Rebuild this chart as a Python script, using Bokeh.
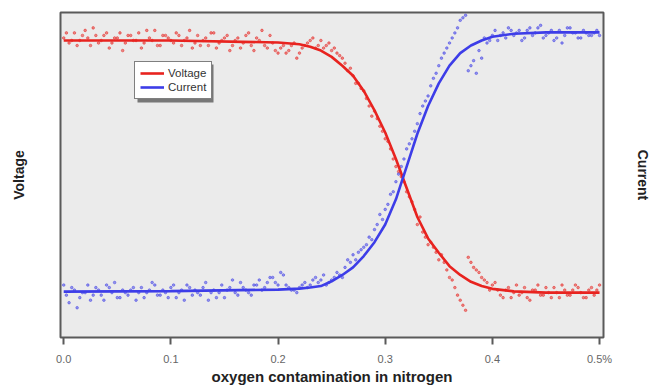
from bokeh.plotting import figure
from bokeh.models import (FixedTicker, LinearAxis, Range1d, Legend, LegendItem,
                          ColumnDataSource, BoxAnnotation)
from bokeh.embed import file_html
from bokeh.resources import INLINE

# ---- data ----
tick_values = [0.0, 0.1, 0.2, 0.3, 0.4, 0.5]
tick_labels = ["0.0", "0.1", "0.2", "0.3", "0.4", "0.5%"]

# fitted curves
voltage_fit_x = [0.0, 0.10, 0.20, 0.22, 0.23, 0.24, 0.25, 0.26, 0.27, 0.28, 0.29,
                 0.30, 0.31, 0.32, 0.33, 0.34, 0.35, 0.36, 0.37, 0.38, 0.39,
                 0.40, 0.42, 0.45, 0.50]
voltage_fit_y = [1.0, 1.0, 0.992, 0.985, 0.975, 0.96, 0.935, 0.90, 0.86, 0.80, 0.723,
                 0.635, 0.53, 0.415, 0.30, 0.215, 0.158, 0.105, 0.07, 0.043, 0.026,
                 0.015, 0.005, 0.0, 0.0]
current_fit_x = [0.0, 0.10, 0.20, 0.22, 0.23, 0.24, 0.25, 0.26, 0.27, 0.28, 0.29,
                 0.30, 0.31, 0.32, 0.33, 0.34, 0.35, 0.36, 0.37, 0.38, 0.39,
                 0.40, 0.42, 0.45, 0.50]
current_fit_y = [0.004, 0.006, 0.012, 0.016, 0.02, 0.026, 0.045, 0.07, 0.10, 0.145, 0.20,
                 0.27, 0.37, 0.50, 0.63, 0.74, 0.83, 0.90, 0.95, 0.98, 1.00,
                 1.015, 1.027, 1.032, 1.032]

# raw measurements (dots), two interleaved sampling grids
sample_x = [round(i * 0.005, 4) for i in range(101)]
sample_x2 = [round(0.0025 + i * 0.005, 4) for i in range(100)]
voltage_raw = [1.01, 0.99, 1.03, 1.00, 1.04, 0.98, 1.02, 1.00, 1.03, 0.99,
               1.01, 0.96, 1.02, 1.00, 1.03, 0.99, 1.01, 1.04, 0.98, 1.02,
               1.00, 1.03, 0.98, 1.01, 0.97, 1.02, 1.00, 0.98, 1.03, 0.99,
               1.01, 0.96, 1.00, 0.97, 1.02, 0.98, 1.01, 1.04, 0.97, 0.99,
               0.95, 0.98, 0.96, 0.99, 0.95, 0.98, 1.00, 0.97, 1.00, 0.98,
               0.96, 0.95, 0.93, 0.88, 0.86, 0.83, 0.80, 0.74, 0.72, 0.66,
               0.61, 0.57, 0.50, 0.46, 0.40, 0.36, 0.27, 0.24, 0.19, 0.18,
               0.13, 0.12, 0.06, 0.02, -0.03, -0.07, 0.12, 0.09, 0.06, 0.04,
               0.03, 0.01, -0.02, 0.02, 0.00, -0.01, 0.02, -0.03, 0.01, -0.01,
               0.02, -0.02, 0.00, 0.03, -0.01, 0.01, 0.02, -0.02, 0.01, -0.01,
               0.03]
voltage_raw2 = [1.03, 1.00, 0.98, 1.02, 1.01, 1.05, 0.99, 1.02, 0.97, 1.01,
                1.03, 0.99, 1.02, 1.00, 0.97, 1.04, 1.00, 0.98, 1.02, 1.01,
                0.99, 1.02, 1.00, 1.04, 0.99, 0.98, 1.01, 1.03, 0.97, 1.00,
                1.02, 0.98, 1.01, 0.99, 1.03, 0.96, 1.00, 0.98, 1.02, 0.96,
                0.97, 0.95, 0.98, 0.93, 0.97, 0.99, 1.01, 0.98, 0.97, 0.99,
                0.97, 0.94, 0.91, 0.89, 0.83, 0.81, 0.77, 0.70, 0.69, 0.64,
                0.60, 0.53, 0.48, 0.44, 0.38, 0.33, 0.30, 0.22, 0.20, 0.16,
                0.15, 0.09, 0.05, -0.01, -0.05, 0.14, 0.10, 0.08, 0.05, 0.01,
                0.04, -0.01, 0.01, -0.02, 0.03, 0.00, -0.02, 0.01, 0.03, -0.01,
                0.00, 0.02, -0.02, 0.01, -0.01, 0.03, 0.00, -0.02, 0.02, 0.01]
current_raw = [0.03, -0.04, 0.01, -0.02, 0.00, -0.03, 0.02, -0.01, 0.03, 0.00,
               -0.02, 0.01, -0.01, 0.02, 0.00, -0.02, 0.01, 0.03, -0.01, 0.00,
               0.02, -0.02, 0.01, 0.03, -0.01, 0.00, 0.02, -0.03, 0.01, 0.00,
               -0.02, 0.02, 0.00, 0.04, 0.01, -0.01, 0.03, 0.01, 0.04, 0.06,
               0.03, 0.07, 0.02, 0.01, 0.02, 0.04, 0.03, 0.06, 0.05, 0.03,
               0.05, 0.08, 0.06, 0.13, 0.15, 0.16, 0.18, 0.22, 0.25, 0.31,
               0.33, 0.39, 0.44, 0.50, 0.57, 0.61, 0.67, 0.74, 0.78, 0.85,
               0.90, 0.95, 0.99, 1.03, 1.08, 1.10, 0.90, 0.87, 0.93, 0.99,
               1.02, 1.00, 1.03, 1.05, 1.02, 1.04, 1.01, 1.05, 1.03, 1.06,
               1.02, 1.04, 1.01, 0.99, 1.05, 1.03, 1.01, 1.04, 1.02, 1.03,
               1.02]
current_raw2 = [-0.01, 0.02, -0.06, 0.00, 0.03, -0.01, 0.01, -0.03, 0.02, 0.04,
                -0.02, 0.00, 0.01, -0.03, 0.02, 0.00, 0.04, -0.01, 0.01, -0.02,
                0.03, 0.00, -0.03, 0.02, 0.01, -0.01, 0.04, 0.00, -0.02, 0.03,
                0.01, 0.05, -0.01, 0.02, 0.00, 0.03, 0.05, 0.02, 0.06, 0.04,
                0.08, 0.03, 0.01, 0.00, 0.03, 0.02, 0.05, 0.04, 0.07, 0.04,
                0.06, 0.07, 0.10, 0.12, 0.13, 0.17, 0.19, 0.21, 0.27, 0.29,
                0.35, 0.40, 0.47, 0.53, 0.59, 0.64, 0.71, 0.76, 0.82, 0.87,
                0.93, 0.97, 1.01, 1.05, 1.09, 0.88, 0.92, 0.96, 1.01, 1.00,
                1.04, 1.02, 1.01, 1.04, 1.03, 1.00, 1.04, 1.02, 1.05, 1.01,
                1.03, 1.00, 1.04, 1.02, 1.05, 1.03, 1.01, 1.03, 1.02, 1.04]
x_title = "oxygen contamination in nitrogen"

RED = "#e8231f"
BLUE = "#3d3de8"
FONT = "Liberation Sans"

p = figure(width=653, height=387, output_backend="svg", toolbar_location=None,
           x_range=Range1d(-0.003, 0.5037), y_range=Range1d(-0.178, 1.111),
           min_border_left=60, min_border_right=50, min_border_top=12,
           min_border_bottom=49, background_fill_color="#ebebeb",
           border_fill_color="white", x_axis_location=None, y_axis_location=None)
p.grid.visible = False
p.outline_line_color = "#5a5a5a"
p.outline_line_width = 2

s1 = ColumnDataSource(dict(x=sample_x, v=voltage_raw, c=current_raw))
s2 = ColumnDataSource(dict(x=sample_x2, v=voltage_raw2, c=current_raw2))
for src in (s1, s2):
    p.scatter("x", "v", source=src, size=2.6, color=RED, alpha=0.5)
    p.scatter("x", "c", source=src, size=2.6, color=BLUE, alpha=0.5)
lv = p.line(voltage_fit_x, voltage_fit_y, line_color=RED, line_width=2.6)
lc = p.line(current_fit_x, current_fit_y, line_color=BLUE, line_width=2.6)

xa = LinearAxis(ticker=FixedTicker(ticks=tick_values), axis_label=x_title)
xa.major_label_overrides = {v: l for v, l in zip(tick_values, tick_labels)}
xa.axis_line_color = None
xa.major_tick_out = 7
xa.major_tick_in = 0
xa.major_tick_line_color = "#5a5a5a"
xa.major_tick_line_width = 2
xa.minor_tick_line_color = None
xa.major_label_text_font = FONT
xa.major_label_text_font_size = "11px"
xa.major_label_text_color = "#666666"
xa.major_label_standoff = 8
xa.axis_label_text_font = FONT
xa.axis_label_text_font_size = "15px"
xa.axis_label_text_font_style = "bold"
xa.axis_label_text_color = "#222222"
xa.axis_label_standoff = 0
p.add_layout(xa, "below")

for side, label, standoff in (("left", "Voltage", 34), ("right", "Current", 31)):
    ax = LinearAxis(axis_label=label, ticker=FixedTicker(ticks=[]))
    ax.axis_line_color = None
    ax.major_tick_line_color = None
    ax.minor_tick_line_color = None
    ax.major_label_text_font_size = "0px"
    ax.axis_label_text_font = FONT
    ax.axis_label_text_font_size = "14px"
    ax.axis_label_text_font_style = "bold"
    ax.axis_label_text_color = "#222222"
    ax.axis_label_standoff = standoff
    p.add_layout(ax, side)

# legend drop shadow
p.add_layout(BoxAnnotation(left=77, right=153, bottom=235, top=273,
                           left_units="screen", right_units="screen",
                           bottom_units="screen", top_units="screen",
                           fill_color="#777777", fill_alpha=1.0, line_color=None))

legend = Legend(items=[LegendItem(label="Voltage", renderers=[lv]),
                       LegendItem(label="Current", renderers=[lc])],
                location=(74, 238))
legend.label_text_font = FONT
legend.label_text_font_size = "11.5px"
legend.label_text_color = "#333333"
legend.label_height = 12
legend.glyph_height = 12
legend.glyph_width = 24
legend.spacing = 2
legend.padding = 5
legend.margin = 0
legend.label_standoff = 4
legend.border_line_width = 1.5
legend.border_line_color = "black"
legend.background_fill_color = "white"
legend.background_fill_alpha = 1.0
p.add_layout(legend, "center")

open("out.html", "w").write(file_html(p, INLINE))
